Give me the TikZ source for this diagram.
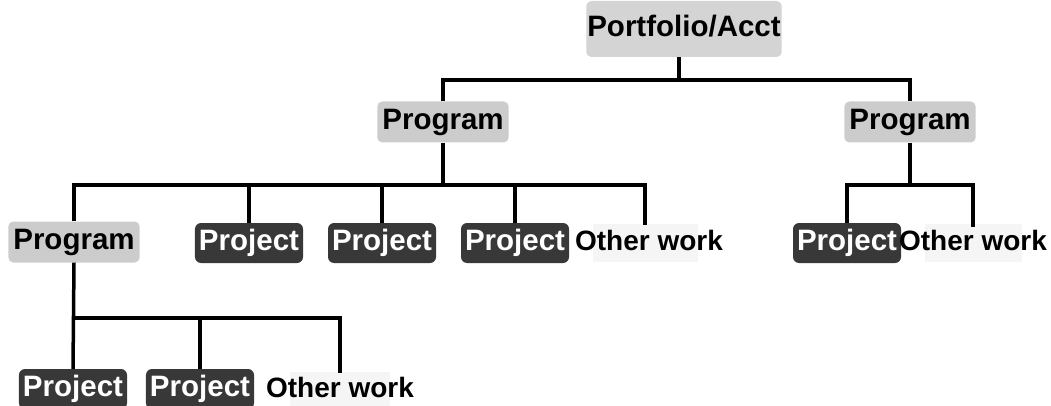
\documentclass[tikz,border=0pt]{standalone}
\usepackage{fontspec}
\setmainfont{Liberation Sans}
\begin{document}
\begin{tikzpicture}[x=1pt,y=-1pt,
  lbl/.style={font=\fontsize{29.5}{30}\selectfont\bfseries, text height=21pt, text depth=6pt, inner ysep=0pt, anchor=center},
  prog/.style={lbl, fill=black!20, rounded corners=5pt, inner xsep=5pt, minimum height=41pt},
  proj/.style={lbl, fill=black!78, text=white, rounded corners=6pt, inner xsep=4pt, minimum height=40pt},
  other/.style={lbl, font=\fontsize{28}{30}\selectfont\bfseries, inner xsep=0pt, minimum height=38pt},
  haze/.style={fill=black!4},
  link/.style={line width=3.5pt, black, line join=miter}]
\useasboundingbox (0,0) rectangle (1051,406);

% top of the hierarchy
\node[prog, minimum width=195pt, minimum height=56pt, inner xsep=1pt, fill=black!17] (port) at (684,29) {Portfolio/Acct};

% programs
\node[prog] (prgA) at (443,122) {Program};
\node[prog] (prgB) at (910,122) {Program};

% children of the middle program
\node[prog]  (prgL) at (74,242) {Program};
\node[proj]  (pj1)  at (249,243) {Project};
\node[proj]  (pj2)  at (382,243) {Project};
\node[proj]  (pj3)  at (515,243) {Project};
\fill[haze] (593,224) rectangle (698,262);
\node[other] (ow1)  at (649,243) {Other work};

% children of the right program
\node[proj]  (pjR) at (847,243) {Project};
\fill[haze] (925,224) rectangle (1022,262);
\node[other] (owR) at (973,243) {Other work};

% children of the nested program
\node[proj]  (pjB1) at (73,389) {Project};
\node[proj]  (pjB2) at (200,389) {Project};
\fill[haze] (290,372) rectangle (390,406);
\node[other] (owB)  at (340,390) {Other work};

% bus levels
\coordinate (busA) at (0,80);
\coordinate (busB) at (0,185);
\coordinate (busC) at (0,318);

% portfolio to programs
\draw[link] ([xshift=-5pt]port.south) -- ([xshift=-5pt]port.south |- busA);
\draw[link] (prgA.north) -- (prgA.north |- busA) -- (prgB.north |- busA) -- (prgB.north);

% middle program to its children
\draw[link] (prgA.south) -- (prgA.south |- busB);
\draw[link] (prgL.north) -- (prgL.north |- busB) -- ([xshift=-4pt]ow1.north |- busB) -- ([xshift=-4pt,yshift=-1pt]ow1.north);
\draw[link] (pj1.north) -- (pj1.north |- busB);
\draw[link] (pj2.north) -- (pj2.north |- busB);
\draw[link] (pj3.north) -- (pj3.north |- busB);

% right program to its children
\draw[link] (prgB.south) -- (prgB.south |- busB);
\draw[link] (pjR.north) -- (pjR.north |- busB) -- (owR.north |- busB) -- ([yshift=-3pt]owR.north);

% nested program to its children
\draw[link] (prgL.south) -- (pjB1.north);
\draw[link] (pjB1.north |- busC) -- (owB.north |- busC) -- ([yshift=-2pt]owB.north);
\draw[link] (pjB2.north) -- (pjB2.north |- busC);
\end{tikzpicture}
\end{document}
